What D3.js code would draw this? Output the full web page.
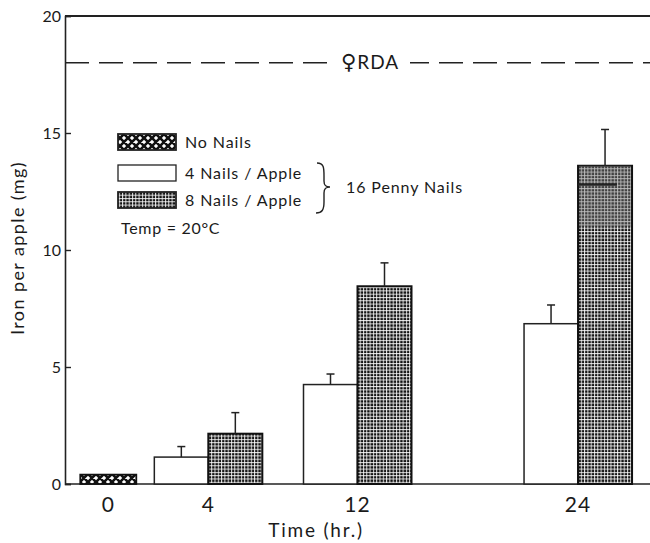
<!DOCTYPE html>
<html>
<head>
<meta charset="utf-8">
<script src="https://cdn.jsdelivr.net/npm/d3@7"></script>
<style>
  html, body { margin: 0; padding: 0; background: #fff; }
  svg { display: block; }
  text { font-family: Lato, "DejaVu Sans", sans-serif; font-weight: 400; fill: #1a1a1a; }
</style>
</head>
<body>
<svg id="chart" width="650" height="543"></svg>
<script>
// Sampling times (hours) and iron content per apple (mg)
const hours = [0, 4, 12, 24];
const hourLabels = ["0", "4", "12", "24"];
const noNailsHour = [0];
const noNailsIron = [0.4];
const nailHours = [4, 12, 24];
const fourNailsIron = [1.15, 4.25, 6.85];
const fourNailsErr = [0.45, 0.45, 0.8];
const eightNailsIron = [2.15, 8.45, 13.6];
const eightNailsErr = [0.9, 1.0, 1.55];
const yTicks = [0, 5, 10, 15, 20];
const rdaFemale = 18;
const legendItems = ["No Nails", "4 Nails / Apple", "8 Nails / Apple"];

const svg = d3.select("#chart");
const W = 650, H = 543;
const margin = { top: 16, right: 0, bottom: 59, left: 65 };
const plotW = W - margin.left - margin.right;

const y = d3.scaleLinear().domain([0, 20]).range([H - margin.bottom, margin.top]);
// Time axis is not linear in hours: groups are spaced piecewise
const x = d3.scaleLinear()
  .domain(hours)
  .range([0.074, 0.245, 0.5, 0.877].map(f => margin.left + f * plotW));
const barW = 54;

// Fill patterns
const defs = svg.append("defs");
const hatch = defs.append("pattern").attr("id", "hatchNo")
  .attr("patternUnits", "userSpaceOnUse").attr("width", 8).attr("height", 8).attr("y", 2);
hatch.append("rect").attr("width", 8).attr("height", 8).attr("fill", "#fff");
hatch.append("path").attr("d", "M0,0 L8,8 M8,0 L0,8 M-2,6 L2,10 M6,-2 L10,2 M-2,2 L2,-2 M6,10 L10,6")
  .attr("stroke", "#111").attr("stroke-width", 2.6);
const grid = defs.append("pattern").attr("id", "grid8")
  .attr("patternUnits", "userSpaceOnUse").attr("width", 3.3).attr("height", 3.3);
grid.append("rect").attr("width", 3.3).attr("height", 3.3).attr("fill", "#111");
grid.append("rect").attr("width", 3.3).attr("height", 1).attr("fill", "#fff").attr("opacity", 0.85);
grid.append("rect").attr("width", 1).attr("height", 3.3).attr("fill", "#fff").attr("opacity", 0.85);

// Frame: top line, baseline
svg.append("line").attr("x1", margin.left).attr("x2", W).attr("y1", y(20)).attr("y2", y(20))
  .attr("stroke", "#222").attr("stroke-width", 2);
svg.append("line").attr("x1", margin.left).attr("x2", W).attr("y1", y(0)).attr("y2", y(0))
  .attr("stroke", "#222").attr("stroke-width", 1.6);

// Y axis with inward ticks
const yAxis = d3.axisRight(y).tickValues(yTicks).tickSize(6).tickFormat("");
const yG = svg.append("g").attr("transform", `translate(${margin.left},0)`).call(yAxis);
yG.select(".domain").attr("stroke", "#222").attr("stroke-width", 1.6);
yG.selectAll(".tick line").attr("stroke", "#222").attr("stroke-width", 1.4);
svg.append("g").selectAll("text").data(yTicks).join("text")
  .attr("x", margin.left - 4).attr("y", d => y(d)).attr("dy", "0.35em")
  .attr("text-anchor", "end").attr("font-size", 16).text(d => d);

// X tick labels
svg.append("g").selectAll("text").data(hours).join("text")
  .attr("x", d => x(d)).attr("y", y(0) + 28)
  .attr("text-anchor", "middle").attr("font-size", 21).attr("letter-spacing", 1)
  .text((d, i) => hourLabels[i]);

// Axis titles
svg.append("text").attr("x", 316).attr("y", 537).attr("text-anchor", "middle")
  .attr("font-size", 19).attr("letter-spacing", 1.8).text("Time (hr.)");
svg.append("text").attr("transform", `translate(24,${y(10) - 2}) rotate(-90)`)
  .attr("text-anchor", "middle").attr("font-size", 18).attr("letter-spacing", 1.4)
  .text("Iron per apple (mg)");

// RDA reference line
svg.append("line").attr("x1", margin.left).attr("x2", W).attr("y1", y(rdaFemale)).attr("y2", y(rdaFemale))
  .attr("stroke", "#222").attr("stroke-width", 1.6).attr("stroke-dasharray", "24,10");
svg.append("rect").attr("x", 330).attr("y", y(rdaFemale) - 12).attr("width", 80).attr("height", 24).attr("fill", "#fff");
const rda = svg.append("text").attr("x", 370).attr("y", y(rdaFemale)).attr("dy", "0.35em")
  .attr("text-anchor", "middle").attr("font-size", 19).attr("letter-spacing", 1);
rda.append("tspan").style("font-family", "'DejaVu Sans', sans-serif").attr("font-size", 21).text("\u2640");
rda.append("tspan").text("RDA");

// Bars
const bars = svg.append("g");
bars.selectAll(".noNails").data(noNailsHour).join("rect")
  .attr("x", d => x(d) - barW / 2 - 1).attr("width", barW + 2)
  .attr("y", (d, i) => y(noNailsIron[i])).attr("height", (d, i) => y(0) - y(noNailsIron[i]))
  .attr("fill", "url(#hatchNo)").attr("stroke", "#111").attr("stroke-width", 1.8);

function errorBars(hoursArr, vals, errs, offset) {
  const g = svg.append("g").attr("stroke", "#222").attr("stroke-width", 1.5);
  hoursArr.forEach((h, i) => {
    const cx = x(h) + offset;
    g.append("line").attr("x1", cx).attr("x2", cx).attr("y1", y(vals[i])).attr("y2", y(vals[i] + errs[i]));
    g.append("line").attr("x1", cx - 4).attr("x2", cx + 4).attr("y1", y(vals[i] + errs[i])).attr("y2", y(vals[i] + errs[i]));
  });
}

errorBars(nailHours, fourNailsIron, fourNailsErr, -barW / 2);
errorBars(nailHours, eightNailsIron, eightNailsErr, barW / 2);

bars.selectAll(".four").data(nailHours).join("rect")
  .attr("x", d => x(d) - barW).attr("width", barW)
  .attr("y", (d, i) => y(fourNailsIron[i])).attr("height", (d, i) => y(0) - y(fourNailsIron[i]))
  .attr("fill", "#fff").attr("stroke", "#222").attr("stroke-width", 1.5);
bars.selectAll(".eight").data(nailHours).join("rect")
  .attr("x", d => x(d)).attr("width", barW)
  .attr("y", (d, i) => y(eightNailsIron[i])).attr("height", (d, i) => y(0) - y(eightNailsIron[i]))
  .attr("fill", "url(#grid8)").attr("stroke", "#111").attr("stroke-width", 2);

// Shaded upper section of the tallest bar
const last = nailHours.length - 1;
svg.append("rect").attr("x", x(nailHours[last]) + 1).attr("width", barW - 2)
  .attr("y", y(eightNailsIron[last])).attr("height", y(11) - y(eightNailsIron[last]))
  .attr("fill", "#777").attr("opacity", 0.45);
svg.append("line").attr("x1", x(nailHours[last])).attr("x2", x(nailHours[last]) + barW * 0.72)
  .attr("y1", y(12.8)).attr("y2", y(12.8)).attr("stroke", "#222").attr("stroke-width", 2.5);

// Legend
const lg = svg.append("g");
const fills = ["url(#hatchNo)", "#fff", "url(#grid8)"];
const rowY = [142, 173, 200];
legendItems.forEach((t, i) => {
  lg.append("rect").attr("x", 118).attr("y", rowY[i] - 8).attr("width", 58).attr("height", 16)
    .attr("fill", fills[i]).attr("stroke", "#222").attr("stroke-width", i === 1 ? 1.3 : 1.8);
  lg.append("text").attr("x", 185).attr("y", rowY[i]).attr("dy", "0.35em")
    .attr("font-size", 16).attr("letter-spacing", 0.9).text(t);
});
lg.append("text").attr("x", 121).attr("y", 228).attr("dy", "0.35em")
  .attr("font-size", 16).attr("letter-spacing", 0.7).text("Temp = 20\u00B0C");
// Brace grouping the nail rows
lg.append("path")
  .attr("d", "M317,163 C324,163 324,168 324,176 L324,181 C324,186 326,187 330,187 C326,187 324,188 324,193 L324,202 C324,210 322,213 316,213")
  .attr("fill", "none").attr("stroke", "#222").attr("stroke-width", 1.4);
lg.append("text").attr("x", 346).attr("y", 187).attr("dy", "0.35em")
  .attr("font-size", 16).attr("letter-spacing", 0.9).text("16 Penny Nails");
</script>
</body>
</html>
